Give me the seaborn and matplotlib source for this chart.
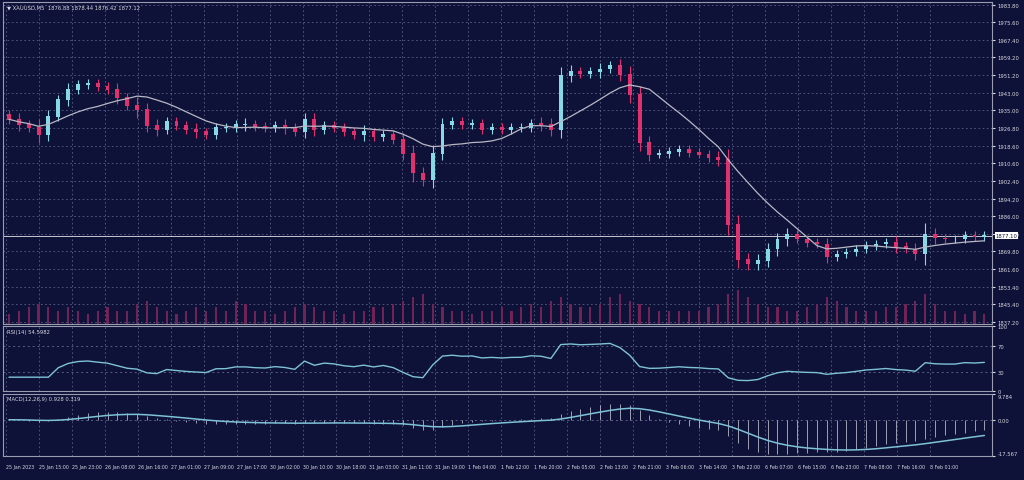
import numpy as np
import pandas as pd
import matplotlib
matplotlib.use("Agg")
import matplotlib.pyplot as plt
import seaborn as sns

closes = [1930.8, 1928.5, 1927.1, 1923.9, 1932.0, 1940.0, 1944.6, 1946.9, 1947.5, 1946.0,
          1944.6, 1941.0, 1937.0, 1935.4, 1928.0, 1926.2, 1929.9, 1928.0, 1926.2, 1925.0,
          1923.9, 1927.0, 1927.1, 1928.5, 1928.5, 1927.5, 1927.1, 1928.0, 1927.1, 1925.0,
          1930.8, 1926.2, 1928.0, 1927.1, 1925.0, 1923.9, 1925.0, 1923.0, 1924.0, 1921.6,
          1915.0, 1906.0, 1903.0, 1915.0, 1928.5, 1930.0, 1928.5, 1929.0, 1926.2, 1927.0,
          1926.2, 1927.0, 1927.1, 1929.0, 1928.5, 1926.2, 1951.0, 1952.9, 1952.0, 1952.9,
          1954.0, 1955.5, 1951.5, 1942.3, 1920.0, 1914.7, 1915.0, 1916.0, 1917.0, 1915.5,
          1914.7, 1913.0, 1912.3, 1882.4, 1866.0, 1864.0, 1865.5, 1870.9, 1875.5, 1877.8,
          1875.5, 1874.0, 1873.2, 1867.3, 1868.6, 1869.5, 1870.9, 1872.5, 1873.2, 1874.1,
          1872.0, 1870.9, 1868.6, 1877.8, 1876.0, 1875.5, 1875.5, 1877.0, 1876.5, 1877.1]
first_open = 1933.0
wicks = [2, 3, 2, 4, 3, 2, 3, 2, 2, 2, 2, 3, 2, 4, 3, 3, 2, 2, 2, 3,
         2, 2, 2, 2, 3, 2, 2, 2, 3, 2, 3, 3, 2, 2, 2, 2, 3, 2, 2, 2,
         3, 4, 3, 4, 3, 2, 2, 2, 2, 2, 2, 2, 2, 2, 3, 3, 4, 3, 2, 2,
         3, 2, 3, 4, 4, 3, 2, 2, 2, 2, 2, 2, 3, 5, 4, 3, 3, 3, 3, 3,
         2, 2, 2, 3, 2, 2, 2, 2, 2, 2, 3, 2, 3, 5, 3, 2, 2, 2, 2, 2]
volume = [3, 4, 5, 6, 5, 4, 5, 4, 3, 4, 5, 4, 4, 6, 7, 5, 4, 3, 4, 5,
          4, 5, 4, 7, 6, 4, 4, 3, 4, 5, 6, 5, 4, 4, 3, 4, 4, 5, 5, 6,
          7, 8, 9, 6, 5, 4, 4, 3, 4, 4, 5, 4, 5, 6, 5, 7, 8, 6, 5, 5,
          6, 8, 9, 7, 6, 5, 4, 4, 4, 4, 4, 5, 6, 9, 10, 8, 6, 5, 5, 4,
          4, 5, 6, 8, 7, 5, 4, 4, 4, 5, 5, 6, 7, 9, 6, 4, 4, 3, 4, 3]
price_ticks = ["1983.80", "1975.60", "1967.40", "1959.20", "1951.20", "1943.00", "1935.00",
               "1926.80", "1918.60", "1910.60", "1902.40", "1894.20", "1886.00", "1877.80",
               "1869.80", "1861.60", "1853.40", "1845.40", "1837.20"]
time_labels = ["25 Jan 2023", "25 Jan 15:00", "25 Jan 23:00", "26 Jan 08:00", "26 Jan 16:00",
               "27 Jan 01:00", "27 Jan 09:00", "27 Jan 17:00", "30 Jan 02:00", "30 Jan 10:00",
               "30 Jan 18:00", "31 Jan 03:00", "31 Jan 11:00", "31 Jan 19:00", "1 Feb 04:00",
               "1 Feb 12:00", "1 Feb 20:00", "2 Feb 05:00", "2 Feb 13:00", "2 Feb 21:00",
               "3 Feb 06:00", "3 Feb 14:00", "3 Feb 22:00", "6 Feb 07:00", "6 Feb 15:00",
               "6 Feb 23:00", "7 Feb 08:00", "7 Feb 16:00", "8 Feb 01:00"]

BG = "#0e1138"
BULL = "#86d9e6"
BEAR = "#e0306e"
GRID = "#5a5f86"
TXT = "#d8d8e0"
FS = 3.8

sns.set_style("dark")
plt.rcParams["font.family"] = ["DejaVu Sans"]
plt.rcParams["patch.edgecolor"] = "none"

c = np.array(closes)
o = np.concatenate([[first_open], c[:-1]])
w = np.array(wicks, dtype=float)
hi = np.maximum(o, c) + w
lo = np.minimum(o, c) - w
n = len(c)
x = np.arange(n)
df = pd.DataFrame({"x": x, "close": c})
df["ma"] = df["close"].rolling(10, min_periods=1).mean()
d = df["close"].diff()
up = d.clip(lower=0).ewm(alpha=1/14, adjust=False).mean()
dn = (-d.clip(upper=0)).ewm(alpha=1/14, adjust=False).mean()
rsi = 100 - 100 / (1 + up / dn.replace(0, 1e-9))
rsi[:4] = np.nan
df["rsi"] = rsi.bfill()
ema12 = df["close"].ewm(span=12, adjust=False).mean()
ema26 = df["close"].ewm(span=26, adjust=False).mean()
df["macd"] = ema12 - ema26
df["signal"] = df["macd"].ewm(span=9, adjust=False).mean()

fig = plt.figure(figsize=(10.24, 4.81), dpi=100, facecolor=BG)
L, W = 0.003, 0.966
ax = fig.add_axes([L, 0.324, W, 0.669])
axr = fig.add_axes([L, 0.185, W, 0.135], sharex=ax)
axm = fig.add_axes([L, 0.050, W, 0.129], sharex=ax)
xmin, xmax = -0.6, n - 0.2
step = (xmax - xmin) * 33.0 / 989
tick_pos = xmin + 0.25 + np.arange(len(time_labels)) * step

for a in (ax, axr, axm):
    a.set_facecolor(BG)
    for s in a.spines.values():
        s.set_color("#9a9cb0")
        s.set_linewidth(0.8)
    a.yaxis.tick_right()
    a.tick_params(axis="y", colors=TXT, labelsize=FS, length=2, pad=2)
    a.tick_params(axis="x", length=0)
    for tp in tick_pos:
        a.axvline(tp, color=GRID, ls=(0, (2, 3)), lw=0.6, zorder=0)
    a.set_xlim(xmin, xmax)

ymin, ymax = 1837.2, 1983.8
ax.set_ylim(ymin - 1, ymax + 1)
pvals = np.linspace(ymax, ymin, len(price_ticks))
ax.set_yticks(pvals)
ax.set_yticklabels(price_ticks)
for p in pvals:
    ax.axhline(p, color=GRID, ls=(0, (2, 3)), lw=0.6, zorder=0)
colors = np.where(c >= o, BULL, BEAR)
ax.vlines(x, lo, hi, colors=colors, lw=0.8, zorder=3)
ax.bar(x, np.abs(c - o) + 0.4, bottom=np.minimum(o, c) - 0.2, width=0.4, color=colors,
       linewidth=0, zorder=4)
sns.lineplot(data=df, x="x", y="ma", ax=ax, color="#b8b8c4", lw=0.9, zorder=5)
ax.axhline(c[-1], color="#c8c8d0", lw=0.7, zorder=2)
ax.text(1.003, c[-1], f"{c[-1]:.2f}", transform=ax.get_yaxis_transform(), fontsize=FS,
        va="center", ha="left", color="#101030", bbox=dict(fc="white", ec="none", pad=0.5))
ax.text(0.004, 0.993, "\u25bc XAUUSD,M5  1876.88 1878.44 1876.42 1877.12",
        transform=ax.transAxes, fontsize=FS, color=TXT, va="top")
axv = ax.inset_axes([0, 0, 1, 1], sharex=ax)
axv.patch.set_alpha(0)
axv.axis("off")
axv.bar(x, volume, width=0.22, color="#6e2454", linewidth=0)
axv.set_ylim(0, max(volume) / 0.105)
ax.set_xlabel(""); ax.set_ylabel("")

axr.set_ylim(0, 100)
axr.set_yticks([100, 70, 30, 0])
axr.set_yticklabels(["100", "70", "30", "0"])
for lvl in (70, 30):
    axr.axhline(lvl, color=GRID, ls=(0, (2, 3)), lw=0.7)
sns.lineplot(data=df, x="x", y="rsi", ax=axr, color="#7ec2d8", lw=1.0)
axr.text(0.004, 0.96, "RSI(14) 54.5982", transform=axr.transAxes, fontsize=FS, color=TXT, va="top")
axr.set_xlabel(""); axr.set_ylabel("")

mmax = df["macd"].max(); mmin = df["macd"].min()
axm.set_ylim(mmin * 1.05, mmax * 1.6)
axm.set_yticks([mmax * 1.6, 0, mmin * 1.05])
axm.set_yticklabels(["9.784", "0.00", "-17.567"])
axm.get_yticklabels()[0].set_va("top")
axm.get_yticklabels()[-1].set_va("bottom")
axm.axhline(0, color=GRID, ls=(0, (2, 3)), lw=0.7)
axm.vlines(x, 0, df["macd"], colors="#d8d8e0", lw=0.5)
sns.lineplot(data=df, x="x", y="signal", ax=axm, color="#7ec2d8", lw=1.1)
axm.text(0.004, 0.96, "MACD(12,26,9) 0.928 0.319", transform=axm.transAxes, fontsize=FS, color=TXT, va="top")
axm.set_xlabel(""); axm.set_ylabel("")

plt.setp(ax.get_xticklabels(), visible=False)
plt.setp(axr.get_xticklabels(), visible=False)
axm.set_xticks(tick_pos)
axm.set_xticklabels(time_labels, fontsize=3.4, color=TXT, ha="left")
axm.tick_params(axis="x", pad=6)

fig.savefig("out.png", dpi=100, facecolor=BG)
